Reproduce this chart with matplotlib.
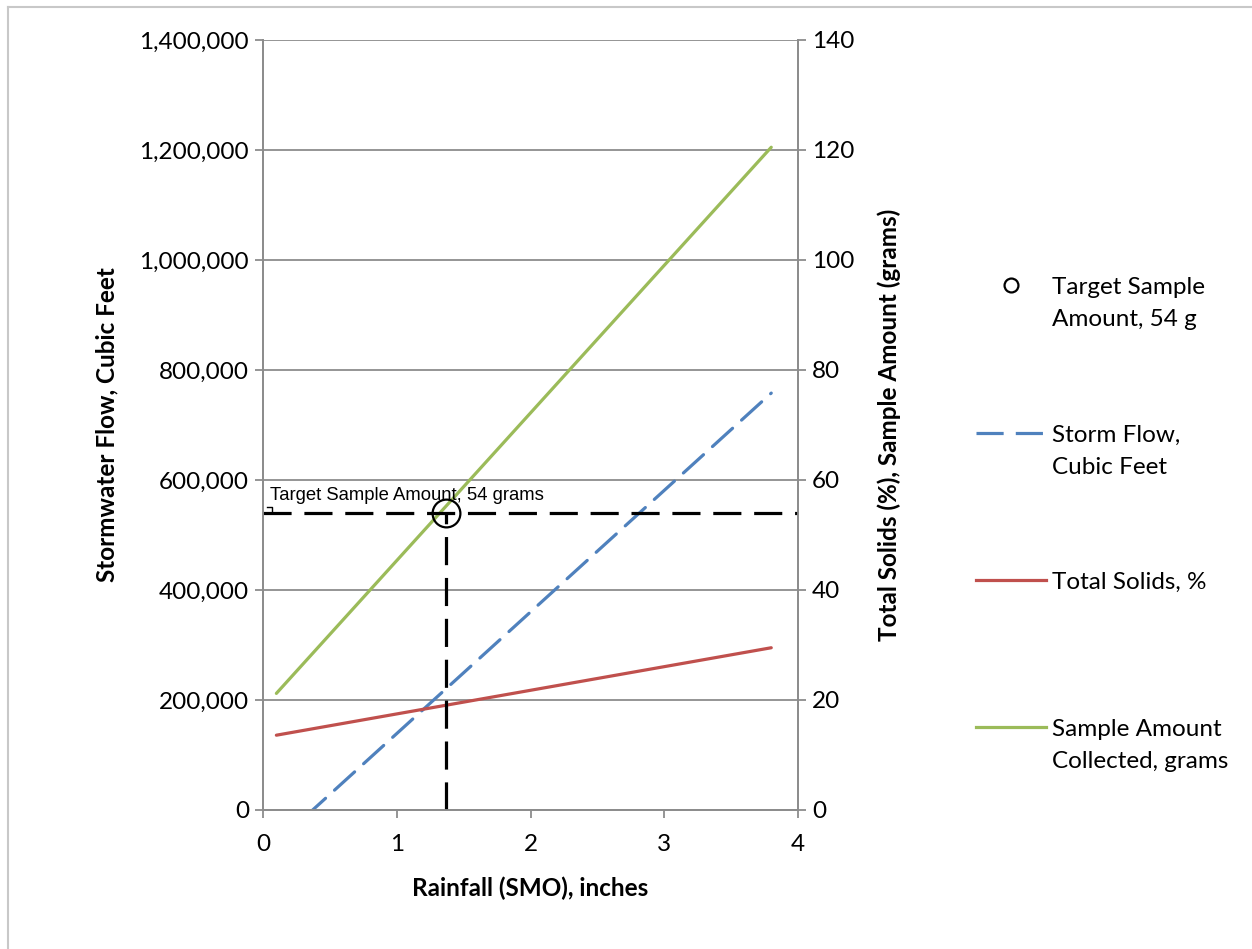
import matplotlib
matplotlib.use("Agg")
import matplotlib.pyplot as plt
from matplotlib.lines import Line2D
import numpy as np

plt.rcParams['font.family'] = ['Lato', 'DejaVu Sans']

# Data
rain = [0.1, 3.8]
storm_flow = [-60000, 758000]          # cubic feet (left axis)
total_solids = [13.6, 29.5]            # % (right axis)
sample_amount = [21.2, 120.5]          # grams (right axis)
target_rain = 1.365
target_amount = 54

GREEN = '#9BBB59'
RED = '#C0504D'
BLUE = '#4F81BD'
GRID = '#8C8C8C'

fig = plt.figure(figsize=(12.52, 9.49), dpi=100)
ax = fig.add_axes([263/1252, 1-810/949, (798-263)/1252, (810-40)/949])
ax2 = ax.twinx()

fs = 17.5

ax.set_xlim(0, 4)
ax.set_ylim(0, 1400000)
ax2.set_ylim(0, 140)
ax.set_xticks([0, 1, 2, 3, 4])
ax.set_yticks(np.arange(0, 1400001, 200000))
ax2.set_yticks(np.arange(0, 141, 20))
ax.yaxis.set_major_formatter(matplotlib.ticker.FuncFormatter(lambda v, p: f"{int(v):,}"))
ax.grid(axis='y', color=GRID, linewidth=1.3)
ax.set_axisbelow(True)

for a in (ax, ax2):
    for s in a.spines.values():
        s.set_color(GRID)
        s.set_linewidth(1.3)
    a.spines['top'].set_visible(False)
    a.tick_params(direction='out', length=6, width=1.3, color=GRID, labelsize=fs, pad=4)
ax.tick_params(axis='x', pad=11)

# Lines
ax.plot(rain, storm_flow, color=BLUE, lw=2.3, dashes=(8.5, 3.8), dash_capstyle='round')
ax2.plot(rain, total_solids, color=RED, lw=2.3, solid_capstyle='round')
ax2.plot(rain, sample_amount, color=GREEN, lw=2.3, solid_capstyle='round')

# Target lines
ax2.plot([0, 4], [target_amount, target_amount], color='black', lw=2.3, dashes=(8.8, 4.0))
ax2.plot([target_rain, target_rain], [0, target_amount], color='black', lw=2.3, dashes=(8.8, 4.0))
ax2.plot([target_rain], [target_amount], marker='o', markersize=20, markerfacecolor='none',
         markeredgecolor='black', markeredgewidth=1.6, clip_on=False)
ax2.text(0.055, 56.3, 'Target Sample Amount, 54 grams', fontsize=13.3,
         family=['Liberation Sans', 'DejaVu Sans'], va='baseline', ha='left')
ax2.plot([0.03, 0.07, 0.07], [55.1, 55.1, 54.2], color='black', lw=1.0)

ax.set_xlabel('Rainfall (SMO), inches', fontsize=fs, fontweight='bold', va='center')
ax.xaxis.set_label_coords(0.5, -(888 - 810) / 770)
ax.set_ylabel('Stormwater Flow, Cubic Feet', fontsize=fs, fontweight='bold', va='center')
ax.yaxis.set_label_coords((107 - 263) / 535, 0.5)
ax2.set_ylabel('Total Solids (%), Sample Amount (grams)', fontsize=fs, fontweight='bold',
               va='center', rotation=90)
ax2.yaxis.set_label_coords((889 - 263) / 535, 0.5)

# Legend entries (handle aligned with the first text line, as in the original)
entries = [
    (Line2D([], [], color='black', marker='o', markersize=10, markerfacecolor='none',
            markeredgewidth=1.6, linestyle='none'), 'Target Sample', 'Amount, 54 g', 287),
    (Line2D([], [], color=BLUE, lw=2.3, dashes=(8.5, 3.8)), 'Storm Flow,', 'Cubic Feet', 435),
    (Line2D([], [], color=RED, lw=2.3), 'Total Solids, %', None, 582),
    (Line2D([], [], color=GREEN, lw=2.3), 'Sample Amount', 'Collected, grams', 729),
]
for h, lab1, lab2, yc in entries:
    fig.legend([h], [lab1], loc='center left', bbox_to_anchor=(976/1252, 1 - yc/949),
               bbox_transform=fig.transFigure, frameon=False, fontsize=fs,
               handlelength=2.9, handletextpad=0.22, borderpad=0, borderaxespad=0)
    if lab2:
        fig.text(1052/1252, 1 - (yc + 32)/949, lab2, fontsize=fs, va='center', ha='left')

# Chart-area border (top and left visible)
fig.add_artist(Line2D([8/1252, 1], [1-7/949, 1-7/949], transform=fig.transFigure,
                      color='#C8C8C8', lw=1.5))
fig.add_artist(Line2D([8/1252, 8/1252], [0, 1-7/949], transform=fig.transFigure,
                      color='#C8C8C8', lw=1.5))

fig.savefig('out.png', dpi=100)
